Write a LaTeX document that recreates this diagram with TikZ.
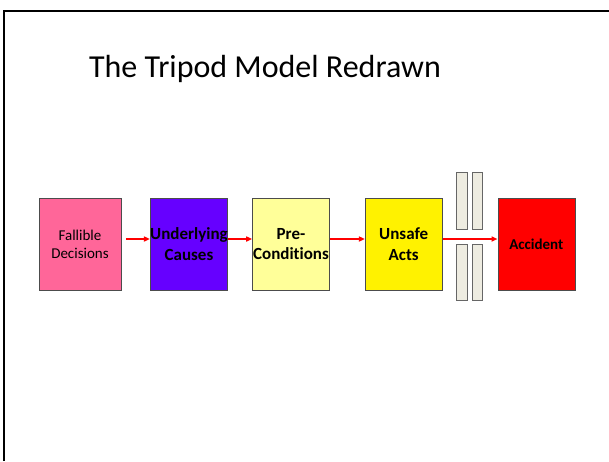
\documentclass[tikz,border=0pt]{standalone}
\usepackage{fontspec}
\setmainfont{Carlito}[Ligatures=NoCommon]
\usetikzlibrary{arrows.meta}
\definecolor{pinkbox}{HTML}{FF6699}
\definecolor{purplebox}{HTML}{6600FF}
\definecolor{paleyellow}{HTML}{FFFF99}
\definecolor{barfill}{HTML}{EEECE1}
\tikzset{
  box/.style={draw=black!70, line width=0.6pt, minimum width=77pt, minimum height=92pt, inner sep=0pt, align=center, font=\fontsize{17}{20.4}\selectfont\bfseries},
  bar/.style={draw=black!60, fill=barfill, line width=0.8pt, minimum width=10.5pt, inner sep=0pt},
  flow/.style={draw=red, line width=1.5pt, -{Triangle[length=6pt,width=5pt]}}
}
\begin{document}
\begin{tikzpicture}[x=1pt,y=-1pt]
\useasboundingbox (0,0) rectangle (609,461);
\draw[line width=2.2pt] (4,461) -- (4,11) -- (609,11);
\node (title) at (265,69) {\fontsize{32}{38}\selectfont The Tripod Model Redrawn};
\node[box, fill=pinkbox, minimum width=82pt, font=\fontsize{15}{17.7}\selectfont] (fall) at (80,244) {Fallible\\Decisions};
\node[box, fill=purplebox] (under) at (189,244) {Underlying\\Causes};
\node[box, fill=paleyellow] (pre) at (291,244) {Pre-\\Conditions};
\node[box, fill=yellow] (unsafe) at (403.7,244) {Unsafe\\Acts};
\node[box, fill=red, font=\fontsize{15}{18}\selectfont\bfseries] (acc) at (536.3,244) {Accident};
\node[bar, minimum height=56.6pt] (b1) at (462,201) {};
\node[bar, minimum height=56.6pt] (b2) at (477.3,201) {};
\node[bar, minimum height=55.6pt] (b3) at (462,272.2) {};
\node[bar, minimum height=55.6pt] (b4) at (477.3,272.2) {};
\draw[flow] ([xshift=5pt,yshift=5pt]fall.east) -- ([yshift=5pt]under.west);
\draw[flow] ([yshift=5pt]under.east) -- ([yshift=5pt]pre.west);
\draw[flow] ([yshift=5pt]pre.east) -- ([yshift=5pt]unsafe.west);
\draw[flow] ([yshift=5pt]unsafe.east) -- ([yshift=5pt]acc.west);
\end{tikzpicture}
\end{document}
